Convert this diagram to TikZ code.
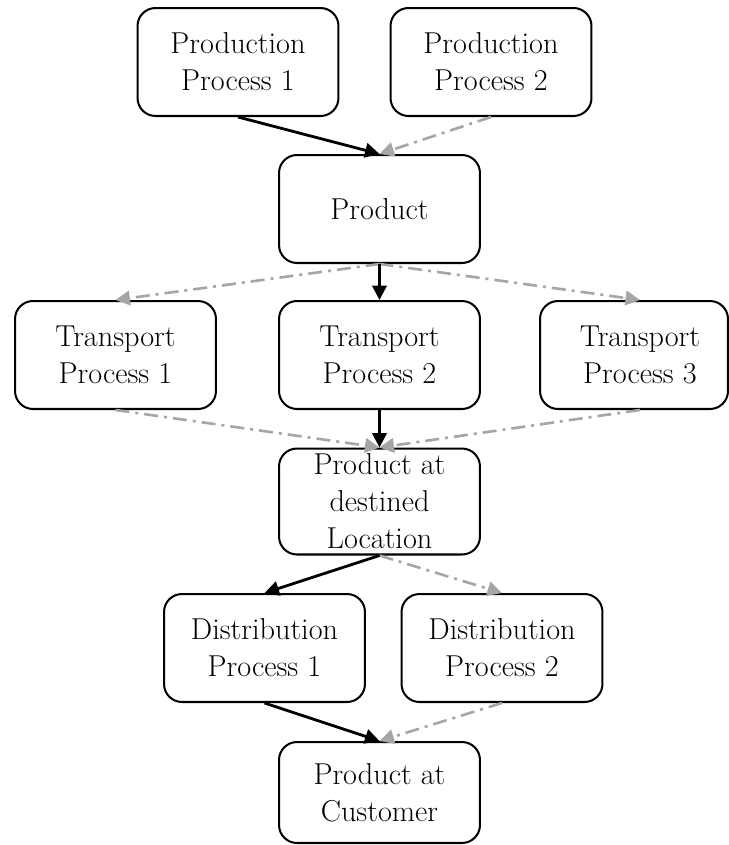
\documentclass[tikz,border=0pt]{standalone}
\usetikzlibrary{arrows.meta}
\definecolor{linegray}{RGB}{166,166,166}
\begin{document}
\begin{tikzpicture}[x=0.02cm, y=-0.02cm,
  stagebox/.style={draw=black, line width=1.15pt, rounded corners=0.36cm,
    minimum width=4.02cm, minimum height=2.16cm, inner sep=0pt,
    align=center, font=\fontsize{17.2}{21}\selectfont},
  mainflow/.style={draw=black, line width=1.6pt,
    -{Triangle[length=0.29cm,width=0.29cm]}},
  altflow/.style={draw=linegray, line width=1.5pt,
    dash pattern=on 0.28cm off 0.12cm on 0.06cm off 0.12cm,
    -{Triangle[length=0.29cm,width=0.29cm,fill=linegray]}}]
\useasboundingbox (0,0) rectangle (729,845);

% production stage
\node[stagebox] (pp1) at (238,62) {Production\\Process 1};
\node[stagebox] (pp2) at (491,62) {Production\\Process 2};
\node[stagebox] (prod) at (379.5,209) {Product};

% transport stage
\node[stagebox] (tp1) at (115.5,355) {Transport\\Process 1};
\node[stagebox] (tp2) at (379.5,355) {Transport\\Process 2};
\node[stagebox, minimum width=3.76cm] (tp3) at (634,355)
  {\hspace*{0.24cm}Transport\\\hspace*{0.24cm}Process 3};
\node[stagebox, minimum height=2.12cm] (loc) at (379.5,501.5)
  {Product at\\destined\\Location};

% distribution stage
\node[stagebox] (d1) at (264.5,648) {Distribution\\Process 1};
\node[stagebox] (d2) at (502,648) {Distribution\\Process 2};
\node[stagebox, minimum height=2.02cm] (cust) at (379.5,792.5)
  {Product at\\Customer};

% alternative routes
\draw[altflow] (pp2.south) -- (prod.north);
\draw[altflow] (prod.south) -- (tp1.north);
\draw[altflow] (prod.south) -- ([xshift=0.12cm]tp3.north);
\draw[altflow] (tp1.south) -- (loc.north);
\draw[altflow] ([xshift=0.12cm]tp3.south) -- (loc.north);
\draw[altflow] (loc.south) -- (d2.north);
\draw[altflow] (d2.south) -- (cust.north);

% chosen route
\draw[mainflow] (pp1.south) -- (prod.north);
\draw[mainflow] (prod.south) -- (tp2.north);
\draw[mainflow] (tp2.south) -- (loc.north);
\draw[mainflow] (loc.south) -- (d1.north);
\draw[mainflow] (d1.south) -- (cust.north);
\end{tikzpicture}
\end{document}
